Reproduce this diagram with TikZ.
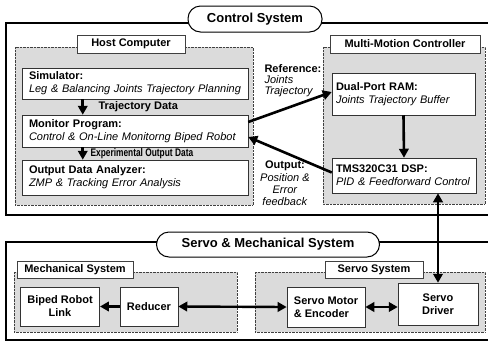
\documentclass[tikz,border=0pt]{standalone}
\usepackage{fontspec}
\setmainfont{Liberation Sans}
\usetikzlibrary{arrows.meta}

\newcommand{\blockfont}{\fontsize{11}{13}\selectfont}

\begin{document}
\begin{tikzpicture}[
            x=1pt, y=-1pt,
            frame/.style={color=black, line width=1.2pt},
            panel/.style={draw=black!75, densely dotted, fill=black!14},
            tab/.style={draw=black!75, fill=white, font=\blockfont\bfseries, inner sep=0pt, minimum height=17pt},
            title/.style={draw, line width=1pt, fill=white, rounded corners=12.5pt, font=\fontsize{13}{15}\selectfont\bfseries},
            block/.style={draw=black!80, fill=white, line width=0.5pt, align=left, font=\blockfont, inner xsep=7pt},
            cblock/.style={block, align=center, font=\blockfont\bfseries},
            flow/.style={line width=2.6pt, -{Triangle[length=9pt, width=9.5pt]}},
            duplex/.style={line width=2.4pt, {Triangle[length=9pt, width=9.5pt]}-{Triangle[length=9pt, width=9.5pt]}},
            sidenote/.style={align=center, font=\fontsize{11}{12.3}\selectfont}
        ]
            \useasboundingbox (0,0) rectangle (488,341);

            % frames
            \draw[frame] (488,23) -- (6,23) -- (6,215) -- (488,215);
            \draw[frame] (488,242) -- (6,242) -- (6,340) -- (488,340);
            \node[title, minimum width=134pt, minimum height=26pt] (ctrl) at (255,19) {Control System};
            \node[title, minimum width=223pt, minimum height=25pt] (servomech) at (268,244.5) {Servo \& Mechanical System};

            % grey panels
            \foreach \xa/\ya/\xb/\yb in {15/47/253/205, 323/47/485/204, 14/272/237/332, 255/272/485/332}{
                \draw[panel] (\xa,\ya) rectangle (\xb,\yb);
            }

            % panel titles
            \node[tab, minimum width=108pt, minimum height=18pt] (hosttab) at (131,44) {Host Computer};
            \node[tab, minimum width=150pt, minimum height=18pt] (mmctab) at (405,44) {Multi-Motion Controller};
            \node[tab, minimum width=116pt] (mechtab) at (75,270) {Mechanical System};
            \node[tab, minimum width=98pt] (servotab) at (374,270) {Servo System};

            % host computer
            \node[block, text width=212pt, minimum height=31pt] (sim) at (135,83.5) {\textbf{Simulator:}\\\textit{Leg \& Balancing Joints Trajectory Planning}};
            \node[block, text width=212pt, minimum height=32pt] (monitor) at (135,131) {\textbf{Monitor Program:}\\\textit{Control \& On-Line Monitorng Biped Robot}};
            \node[block, text width=212pt, minimum height=35pt] (analyzer) at (135,177.5) {\textbf{Output Data Analyzer:}\\\textit{ZMP \& Tracking Error Analysis}};

            % multi-motion controller
            \node[block, inner xsep=4pt, text width=135pt, minimum height=42pt] (dpram) at (403.5,94) {\textbf{Dual-Port RAM:}\\\textit{Joints Trajectory Buffer}};
            \node[block, inner xsep=4pt, text width=136pt, minimum height=35pt] (dsp) at (404,175.5) {\textbf{TMS320C31 DSP:}\\\textit{PID \& Feedforward Control}};

            % mechanical and servo system
            \node[cblock, minimum width=76pt, minimum height=39pt] (biped) at (60,306.5) {Biped Robot\\Link};
            \node[cblock, minimum width=52pt, minimum height=39pt] (reducer) at (149,306.5) {Reducer};
            \node[cblock, align=left, minimum width=74pt, minimum height=40pt] (motor) at (326,307) {Servo Motor\\\& Encoder};
            \node[cblock, minimum width=80pt, minimum height=42pt] (driver) at (438,304) {Servo\\Driver};

            % data flow inside the host
            \draw[flow] ([xshift=61pt]sim.south west) -- ([xshift=61pt]monitor.north west);
            \node[anchor=west, font=\blockfont\bfseries] (trajlbl) at (95,106.5) {Trajectory Data};
            \draw[flow] ([xshift=61pt]monitor.south west) -- ([xshift=61pt]analyzer.north west);
            \node[anchor=west, font=\blockfont\bfseries] (explbl) at (87,153.5) {\scalebox{0.76}[1]{Experimental Output Data}};

            % host <-> controller
            \draw[flow] ([yshift=9pt]monitor.east) -- ([yshift=2pt]dpram.west);
            \draw[flow] ([yshift=3pt]dsp.west) -- ([yshift=-6pt]monitor.east);
            \node[anchor=west, align=left, font=\fontsize{11}{11}\selectfont] (reflbl) at (261,81) {\textbf{Reference:}\\\textit{Joints}\\\textit{Trajectory}};
            \node[sidenote] (outlbl) at (285,183.5) {\textbf{Output:}\\\textit{Position \&}\\\textit{Error}\\\textit{feedback}};

            % controller and servo links
            \draw[flow] (dpram.south) -- (dsp.north);
            \draw[duplex] (driver.north |- dsp.south) -- (driver.north);
            \draw[flow] (reducer.west) -- (biped.east);
            \draw[duplex] (reducer.east) -- (motor.west);
            \draw[duplex] (motor.east) -- (driver.west |- motor.east);

        \end{tikzpicture}
\end{document}
